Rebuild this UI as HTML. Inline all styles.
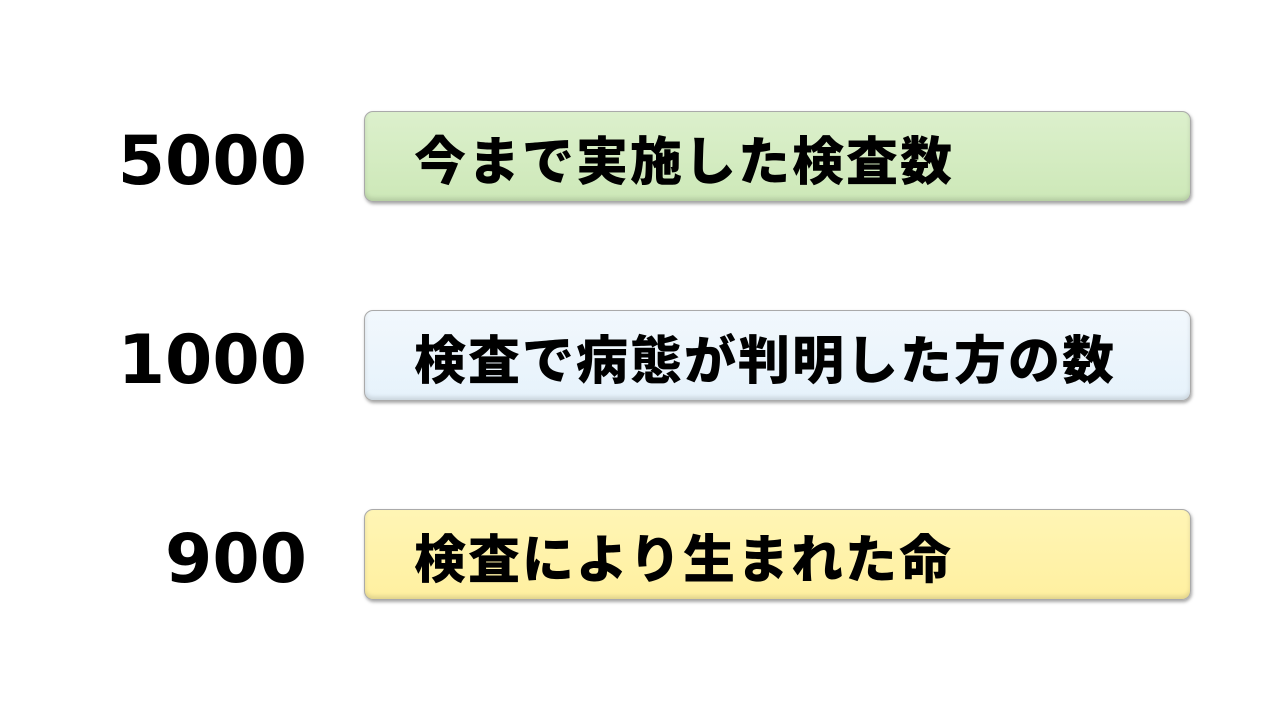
<!DOCTYPE html>
<html><head><meta charset="utf-8"><style>
body{margin:0;width:1280px;height:720px;background:#fff;position:relative;overflow:hidden;font-family:"Liberation Sans","Noto Sans CJK JP",sans-serif}
.n{position:absolute;right:973px;font-family:"DejaVu Sans",sans-serif;font-weight:bold;font-size:68px;line-height:90px;color:#000;letter-spacing:0px}
.b{position:absolute;left:364px;width:827px;height:91px;border:1px solid #aaa;border-radius:9px;box-shadow:1px 2px 3px rgba(0,0,0,0.35), inset 0 -3px 4px rgba(0,0,0,0.12);box-sizing:border-box}
.t{position:absolute;left:414px;font-family:"Noto Sans CJK JP",sans-serif;font-weight:900;font-size:52px;line-height:90px;color:#000;letter-spacing:2px}
</style></head><body>
<div class="n" style="top:117px">5000</div>
<div class="b" style="top:111px;background:linear-gradient(#dcf0cc,#cde8b8)"></div>
<div class="t" style="top:113px">今まで実施した検査数</div>
<div class="n" style="top:316px">1000</div>
<div class="b" style="top:310px;background:linear-gradient(#f2f8fd,#e6f2fb)"></div>
<div class="t" style="top:312px">検査で病態が判明した方の数</div>
<div class="n" style="top:515px">900</div>
<div class="b" style="top:509px;background:linear-gradient(#fff5b5,#fff0a0)"></div>
<div class="t" style="top:511px">検査により生まれた命</div>
</body></html>
